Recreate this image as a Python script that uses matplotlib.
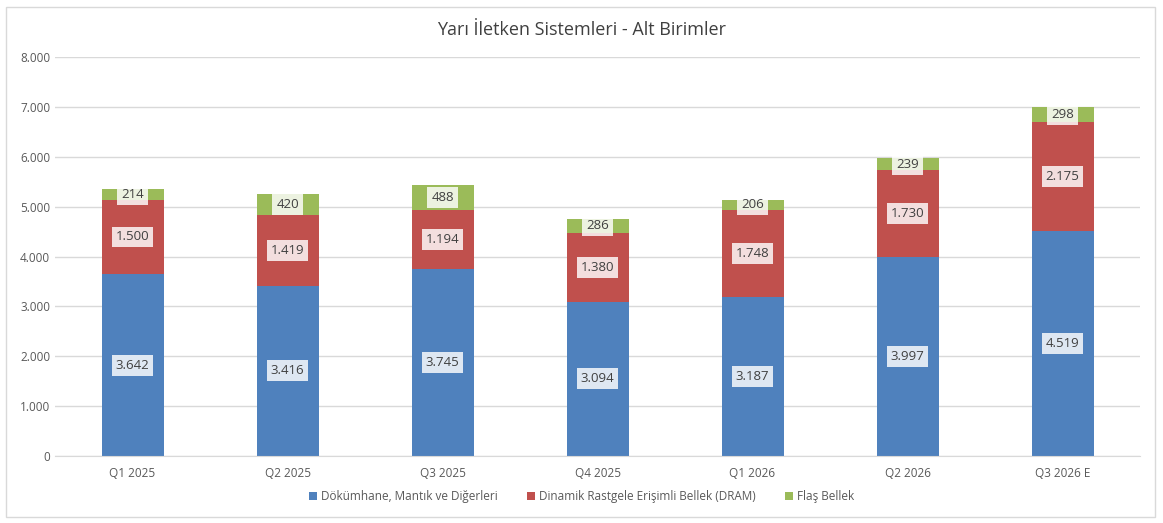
import numpy as np
import matplotlib.pyplot as plt
from matplotlib.patches import Rectangle

plt.rcParams['font.family'] = ['Open Sans', 'DejaVu Sans']

quarters = ['Q1 2025', 'Q2 2025', 'Q3 2025', 'Q4 2025', 'Q1 2026', 'Q2 2026', 'Q3 2026 E']
foundry = [3642, 3416, 3745, 3094, 3187, 3997, 4519]
dram = [1500, 1419, 1194, 1380, 1748, 1730, 2175]
flash = [214, 420, 488, 286, 206, 239, 298]

series_names = ['Dökümhane, Mantık ve Diğerleri',
                'Dinamik Rastgele Erişimli Bellek (DRAM)',
                'Flaş Bellek']
colors = ['#4F81BD', '#C0504D', '#9BBB59']


def tr_fmt(v):
    return f'{int(v):,}'.replace(',', '.')


fig = plt.figure(figsize=(11.63, 5.23), dpi=100)
ax = fig.add_axes([0.0473, 0.128, 0.933, 0.763])

# cerceve
fig.patches.append(Rectangle((0.005, 0.012), 0.988, 0.975, transform=fig.transFigure,
                             fill=False, edgecolor='#D9D9D9', linewidth=1))

x = np.arange(len(quarters))
bottom = np.zeros(len(quarters))
for vals, name, c in zip([foundry, dram, flash], series_names, colors):
    vals = np.array(vals)
    ax.bar(x, vals, 0.4, bottom=bottom, color=c, label=name, zorder=2)
    for xi, b, v in zip(x, bottom, vals):
        ax.text(xi, b + v / 2, tr_fmt(v), ha='center', va='center', fontsize=9.5,
                color='#404040', zorder=3,
                bbox=dict(boxstyle='square,pad=0.3', facecolor='white',
                          edgecolor='none', alpha=0.82))
    bottom += vals

ax.set_xlim(-0.5, len(quarters) - 0.5)
ax.set_ylim(0, 8000)
ax.set_yticks(np.arange(0, 8001, 1000))
ax.set_yticklabels([tr_fmt(v) for v in np.arange(0, 8001, 1000)])
ax.set_xticks(x)
ax.set_xticklabels(quarters)
ax.tick_params(axis='both', length=0, labelsize=8.5, colors='#595959')
ax.tick_params(axis='x', pad=8)
ax.grid(axis='y', color='#D9D9D9', linewidth=1, zorder=0)
for s in ['top', 'right', 'left']:
    ax.spines[s].set_visible(False)
ax.spines['bottom'].set_color('#D9D9D9')

fig.text(0.5, 0.943, 'Yarı İletken Sistemleri - Alt Birimler', ha='center', va='center',
         fontsize=13, color='#404040')

fig.legend(loc='center', bbox_to_anchor=(0.5, 0.05), ncol=3, frameon=False,
           fontsize=8.5, labelcolor='#595959', handlelength=0.7, handleheight=0.7,
           handletextpad=0.3, columnspacing=2.5)

fig.savefig('out.png', dpi=100)
